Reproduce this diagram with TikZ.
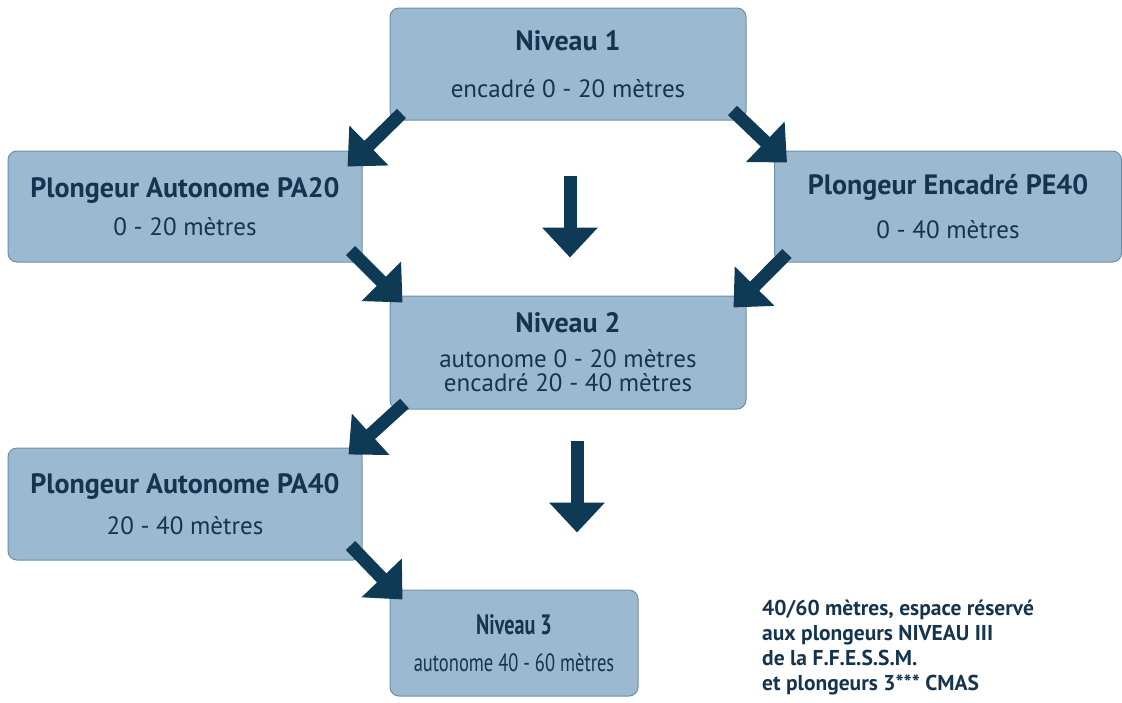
\documentclass[tikz,border=0pt]{standalone}
\usepackage{fontspec}
\setmainfont{PT Sans}
\usepackage{graphicx}
\usetikzlibrary{positioning, arrows.meta}
\usepackage{xcolor}

\definecolor{boxfill}{RGB}{155,185,208}
\definecolor{boxline}{RGB}{112,142,166}
\definecolor{boxtext}{RGB}{22,52,78}
\definecolor{arrowcol}{RGB}{14,58,85}

\newcommand{\boxtitle}[1]{{\fontsize{28}{34}\selectfont\bfseries #1}}

\tikzset{
  box/.style={draw=boxline, fill=boxfill, rounded corners=9pt, line width=1pt,
    text=boxtext, align=center, font=\fontsize{25}{30}\selectfont, inner sep=0pt},
  bigarrow/.style={draw=arrowcol, line width=13pt,
    -{Triangle[length=30pt, width=54pt]}},
}

\begin{document}
\begin{tikzpicture}[x=1pt, y=-1pt]
\useasboundingbox (0,0) rectangle (1122,702);
\node[box, minimum width=356pt, minimum height=112pt] (niv1) at (568,64) {\boxtitle{Niveau 1}\\[17.5pt] encadré 0 - 20 mètres};
\node[box, minimum width=354pt, minimum height=111pt] (pa20) at (185,206.5) {\boxtitle{Plongeur Autonome PA20}\\[8.5pt] 0 - 20 mètres};
\node[box, minimum width=347pt, minimum height=111pt] (pe40) at (948,206.5) {\boxtitle{Plongeur Encadré PE40}\\[14.5pt] 0 - 40 mètres};
\node[box, minimum width=356pt, minimum height=113pt] (niv2) at (568,352.5) {\boxtitle{Niveau 2}\\[5pt] autonome 0 - 20 mètres\\[-6pt] encadré 20 - 40 mètres};
\node[box, minimum width=354pt, minimum height=112pt] (pa40) at (185,504) {\boxtitle{Plongeur Autonome PA40}\\[10.5pt] 20 - 40 mètres};
% narrow box: text squeezed sideways as in the original
\node[box, minimum width=248pt, minimum height=106pt] (niv3) at (514,643) {\scalebox{0.72}[1]{\boxtitle{Niveau 3}}\\[6.5pt] \scalebox{0.74}[1]{autonome 40 - 60 mètres}};
\node[anchor=north west, align=left, text=boxtext, inner sep=0pt,
  font=\bfseries\fontsize{21.5}{25}\selectfont] (note) at (762,600)
  {40/60 mètres, espace réservé\\aux plongeurs NIVEAU III\\de la F.F.E.S.S.M.\\et plongeurs 3*** CMAS};
\draw[bigarrow] ([shift={(12,-7)}]niv1.south west) -- ([shift={(-15,16)}]pa20.north east);
\draw[bigarrow] ([shift={(-14,-10)}]niv1.south east) -- ([shift={(13,12)}]pe40.north west);
\draw[bigarrow] ([shift={(2,55)}]niv1.south) -- ([shift={(2,137)}]niv1.south);
\draw[bigarrow] ([shift={(-12,-12)}]pa20.south east) -- ([shift={(13,7)}]niv2.north west);
\draw[bigarrow] ([shift={(13,-9)}]pe40.south west) -- ([shift={(-13,12)}]niv2.north east);
\draw[bigarrow] ([shift={(15,-6)}]niv2.south west) -- ([shift={(-14,7)}]pa40.north east);
\draw[bigarrow] ([shift={(9,31)}]niv2.south) -- ([shift={(9,123)}]niv2.south);
\draw[bigarrow] ([shift={(-12,-15)}]pa40.south east) -- ([shift={(13,10)}]niv3.north west);
\end{tikzpicture}
\end{document}
